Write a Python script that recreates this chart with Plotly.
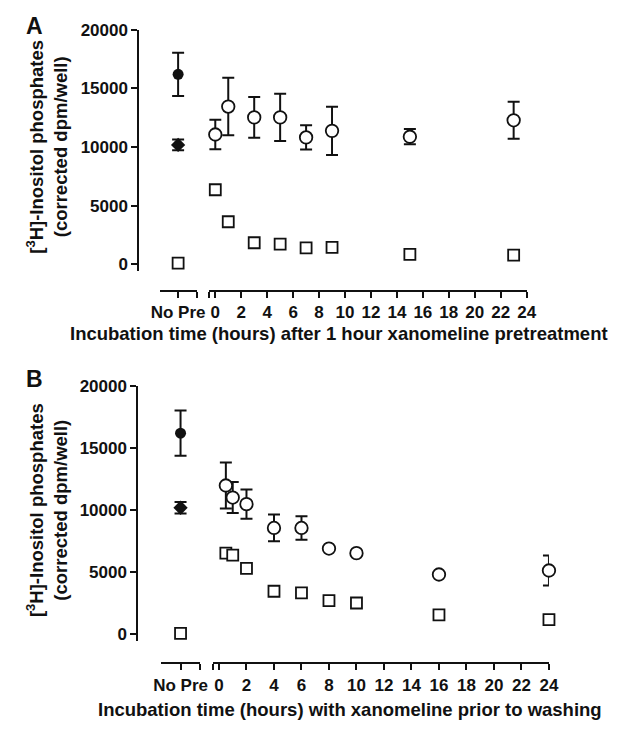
import plotly.graph_objects as go

# the page body keeps its default 8px margin, so the figure is drawn 8px in
W, H = 624, 733
PAD = 8
FW, FH = W - PAD, H - PAD

# ---- panel A: 1 h xanomeline pretreatment, then incubation ----
a_nopre_x = [0]
a_full_y = [16200]
a_full_err = [1850]
a_ctrl_y = [10180]
a_ctrl_err = [460]
a_basal_y = [100]

a_time = [0, 1, 3, 5, 7, 9, 15, 23]
a_circle_y = [11070, 13450, 12530, 12530, 10820, 11380, 10880, 12280]
a_circle_err = [1250, 2450, 1730, 2020, 1030, 2060, 650, 1580]
a_square_y = [6360, 3630, 1840, 1730, 1400, 1450, 840, 780]

# ---- panel B: xanomeline for the time shown, then washing ----
b_nopre_x = [0]
b_full_y = [16220]
b_full_err = [1820]
b_ctrl_y = [10210]
b_ctrl_err = [460]
b_basal_y = [80]

b_time_c = [0.5, 1, 2, 4, 6, 8, 10, 16, 24]
b_circle_y = [12000, 11030, 10500, 8580, 8580, 6920, 6550, 4830, 5150]
b_circle_err = [1850, 1250, 1170, 1080, 950, 0, 0, 0, 1200]
b_time_s = [0.5, 1, 2, 4, 6, 8, 10, 16, 24]
b_square_y = [6550, 6390, 5330, 3480, 3350, 2720, 2530, 1580, 1190]

y_ticks = [0, 5000, 10000, 15000, 20000]
hour_ticks = list(range(0, 25, 2))

FONT = "Liberation Sans, Arial, sans-serif"
BLACK = "#111111"


def px_x(p):
    return (p - PAD) / FW


def px_y(p):
    return 1 - (p - PAD) / FH


def err(vals):
    return dict(type="data", array=vals, color=BLACK, thickness=2, width=6, visible=True)


def add_panel(fig, xa, xb, ya, nopre_x, full_y, full_err, ctrl_y, ctrl_err, basal_y,
              tc, cy, cerr, ts, sy):
    # filled circle, filled diamond, open square at "No Pre"
    fig.add_trace(go.Scatter(x=nopre_x, y=full_y, xaxis=xa, yaxis=ya, mode="markers",
                             error_y=err(full_err), cliponaxis=False,
                             marker=dict(symbol="circle", size=11, color=BLACK)))
    fig.add_trace(go.Scatter(x=nopre_x, y=ctrl_y, xaxis=xa, yaxis=ya, mode="markers",
                             error_y=err(ctrl_err), cliponaxis=False,
                             marker=dict(symbol="diamond", size=11, color=BLACK)))
    fig.add_trace(go.Scatter(x=nopre_x, y=basal_y, xaxis=xa, yaxis=ya, mode="markers",
                             cliponaxis=False,
                             marker=dict(symbol="square", size=11, color="white",
                                         line=dict(color=BLACK, width=1.8))))
    # time course
    fig.add_trace(go.Scatter(x=tc, y=cy, xaxis=xb, yaxis=ya, mode="markers",
                             error_y=err(cerr), cliponaxis=False,
                             marker=dict(symbol="circle", size=12.5, color="white",
                                         line=dict(color=BLACK, width=1.8))))
    fig.add_trace(go.Scatter(x=ts, y=sy, xaxis=xb, yaxis=ya, mode="markers",
                             cliponaxis=False,
                             marker=dict(symbol="square", size=11, color="white",
                                         line=dict(color=BLACK, width=1.8))))


fig = go.Figure()
add_panel(fig, "x", "x2", "y", a_nopre_x, a_full_y, a_full_err, a_ctrl_y, a_ctrl_err,
          a_basal_y, a_time, a_circle_y, a_circle_err, a_time, a_square_y)
add_panel(fig, "x3", "x4", "y2", b_nopre_x, b_full_y, b_full_err, b_ctrl_y, b_ctrl_err,
          b_basal_y, b_time_c, b_circle_y, b_circle_err, b_time_s, b_square_y)

tickfont = dict(family=FONT, size=17, color=BLACK, weight="bold")
axis_common = dict(showline=True, linecolor=BLACK, linewidth=2, ticks="outside",
                   ticklen=6, tickwidth=2, tickcolor=BLACK, showgrid=False,
                   zeroline=False, tickfont=tickfont, anchor="free")


def y_axis(top, bottom, xpos, lo):
    return dict(axis_common, domain=[px_y(bottom), px_y(top)], range=[lo, 20000],
                tickvals=y_ticks, ticktext=[str(v) for v in y_ticks],
                position=px_x(xpos))


def nopre_axis(left, right, ypos):
    return dict(axis_common, domain=[px_x(left), px_x(right)], range=[-1, 1],
                tickvals=[0, 1], ticktext=["No Pre", ""], position=px_y(ypos))


def hour_axis(left, right, ypos, lo):
    return dict(axis_common, domain=[px_x(left), px_x(right)], range=[lo, 24],
                tickvals=[lo] + hour_ticks,
                ticktext=[""] + [str(t) for t in hour_ticks], position=px_y(ypos))


fig.update_layout(
    width=FW, height=FH,
    margin=dict(l=0, r=0, t=0, b=0),
    paper_bgcolor="white", plot_bgcolor="white",
    showlegend=False,
    font=dict(family=FONT, color=BLACK),
    yaxis=y_axis(21, 267, 134, -600),
    xaxis=nopre_axis(156, 194, 287),
    xaxis2=hour_axis(207, 534, 287, -0.47),
    yaxis2=y_axis(384, 643, 133, -500),
    xaxis3=nopre_axis(157, 198, 666),
    xaxis4=hour_axis(211, 557, 666, -0.43),
)

ylab = "[<sup>3</sup>H]-Inositol phosphates<br>(corrected dpm/well)"
xlab_a = "Incubation time (hours) after 1 hour xanomeline pretreatment"
xlab_b = "Incubation time (hours) with xanomeline prior to washing"
title_font = dict(family=FONT, size=18.5, color=BLACK, weight="bold")
panel_font = dict(family=FONT, size=23, color=BLACK, weight="bold")

annots = [
    dict(text="A", x=px_x(27.5), y=px_y(17), font=panel_font),
    dict(text="B", x=px_x(27.5), y=px_y(377), font=panel_font),
    dict(text=ylab, x=px_x(40), y=px_y(140), textangle=-90, font=title_font),
    dict(text=ylab, x=px_x(40), y=px_y(510), textangle=-90, font=title_font),
    dict(text=xlab_a, x=px_x(341), y=px_y(330), font=title_font),
    dict(text=xlab_b, x=px_x(352), y=px_y(713), font=title_font),
]
for a in annots:
    fig.add_annotation(xref="paper", yref="paper", showarrow=False,
                       xanchor="center", yanchor="middle", **a)

fig.write_html("out.html")
